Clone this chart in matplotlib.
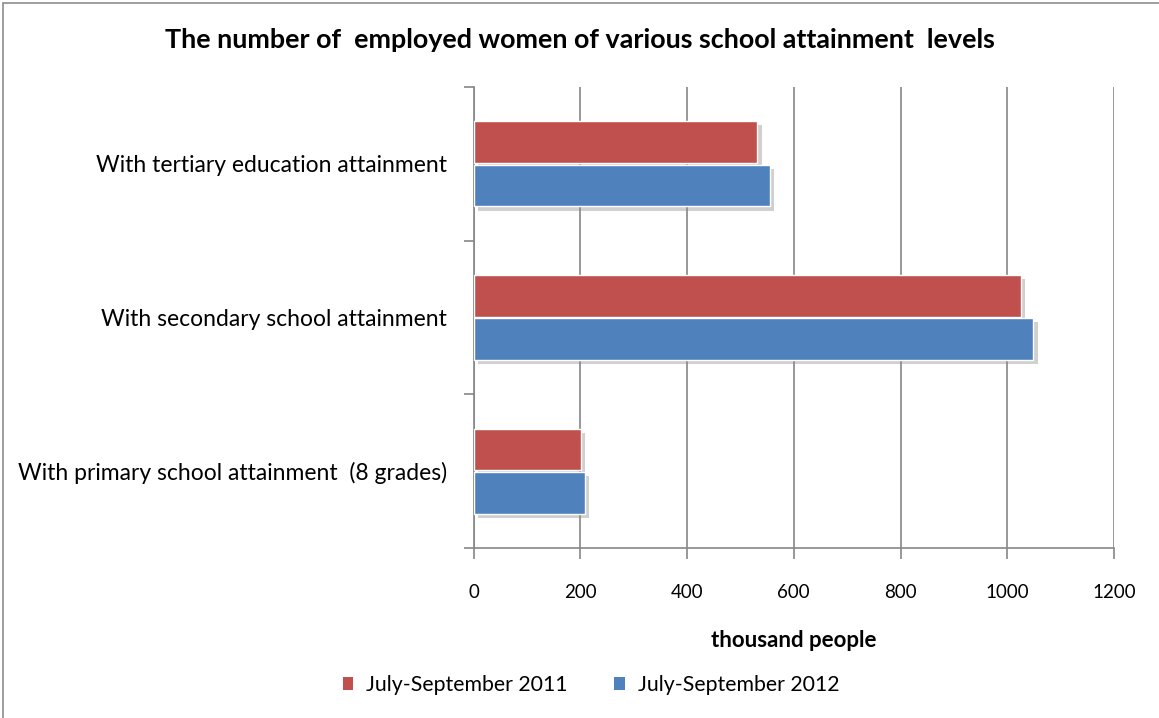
import matplotlib
matplotlib.use("Agg")
import matplotlib.pyplot as plt
import matplotlib.patheffects as pe
from matplotlib.patches import Rectangle
import numpy as np

# Data
categories = [
    "With primary school attainment  (8 grades)",
    "With secondary school attainment",
    "With tertiary education attainment",
]
series_names = ["July-September 2011", "July-September 2012"]
values_2011 = [202, 1026, 532]
values_2012 = [208, 1049, 556]
x_ticks = [0, 200, 400, 600, 800, 1000, 1200]

RED = "#C0504D"
BLUE = "#4F81BD"
GRID = "#868686"
FONT = ["Lato", "DejaVu Sans"]

W, H = 1159, 718
fig = plt.figure(figsize=(W / 100, H / 100), dpi=100)
fig.patch.set_facecolor("white")

# chart border (left/top edges visible)
fig.patches.append(Rectangle((3 / W, -0.2), 1.3, 1.2 - 3 / H,
                             transform=fig.transFigure, fill=False,
                             edgecolor="#8c8c8c", linewidth=1.2))

left, right = 473.5 / W, 1114 / W
bottom, top = 1 - 548 / H, 1 - 87 / H
ax = fig.add_axes([left, bottom, right - left, top - bottom])

y = np.arange(len(categories))
bh = 0.272
shadow = [pe.SimplePatchShadow(offset=(3, -3), shadow_rgbFace="#8a8a8a", alpha=0.4),
          pe.Normal()]
b1 = ax.barh(y + bh / 2 + 0.005, values_2011, height=bh, color=RED,
             edgecolor="white", linewidth=1.0, zorder=3, label=series_names[0])
b2 = ax.barh(y - bh / 2 - 0.005, values_2012, height=bh, color=BLUE,
             edgecolor="white", linewidth=1.0, zorder=3, label=series_names[1])
for bar in list(b1) + list(b2):
    bar.set_path_effects(shadow)

ax.set_xlim(0, 1200)
ax.set_ylim(-0.5, len(categories) - 0.5)
ax.set_xticks(x_ticks)
ax.set_xticklabels([str(t) for t in x_ticks], family=FONT, fontsize=13.5)
ax.set_yticks(y)
ax.set_yticklabels(categories, family=FONT, fontsize=16.5)
ax.set_yticks(np.arange(-0.5, len(categories)), minor=True)
ax.tick_params(axis="y", which="major", length=0, pad=19)
ax.tick_params(axis="y", which="minor", length=7, color=GRID, width=1.2)
ax.tick_params(axis="x", length=8, color=GRID, width=1.2, pad=18)

ax.grid(axis="x", color=GRID, linewidth=1.2, zorder=0)
ax.set_axisbelow(True)
for s in ["top", "right"]:
    ax.spines[s].set_visible(False)
for s in ["left", "bottom"]:
    ax.spines[s].set_color(GRID)
    ax.spines[s].set_linewidth(1.2)

ax.set_xlabel("thousand people", family=FONT, fontsize=16, fontweight="bold",
              labelpad=21)

fig.text(0.5, 1 - 40 / H, "The number of  employed women of various school attainment  levels",
         ha="center", va="center", family=FONT, fontsize=19.4, fontweight="bold")

leg = fig.legend(handles=[b1, b2], labels=series_names, loc="center",
                 bbox_to_anchor=(591 / W, 1 - 685 / H), ncol=2, frameon=False,
                 prop={"family": FONT, "size": 15.3}, handlelength=0.5,
                 handleheight=0.5, handletextpad=0.6, columnspacing=2.2)
for h in leg.legend_handles:
    h.set_path_effects([])
    h.set_edgecolor("none")

fig.savefig("out.png", dpi=100, facecolor="white")
